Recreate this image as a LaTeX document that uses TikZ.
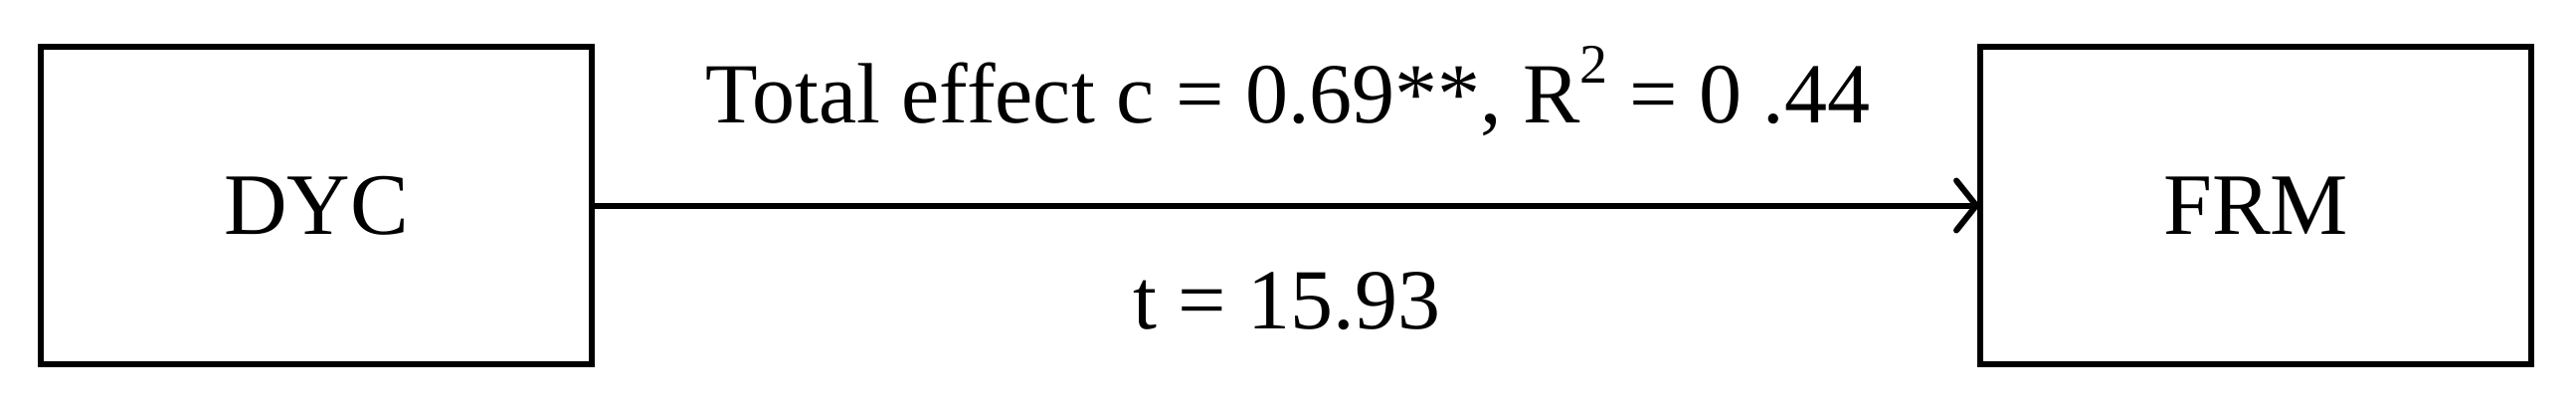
\documentclass[tikz,border=0pt]{standalone}
\usepackage{fontspec}
\setmainfont{Liberation Serif}
\usetikzlibrary{arrows.meta}
\newcommand{\supII}{\raisebox{0.46em}{\fontsize{28pt}{28pt}\selectfont 2}}
\begin{document}
\begin{tikzpicture}[x=0.5pt,y=-0.5pt,
  every node/.style={font=\fontsize{43pt}{50pt}\selectfont},
  varbox/.style={draw,line width=3pt,minimum width=277pt,minimum height=159.5pt,inner sep=0pt,line join=miter,font=\fontsize{44pt}{50pt}\selectfont},
  lbl/.style={anchor=base,inner sep=0pt},
  conn/.style={line width=3pt,shorten >=-1pt,-{Straight Barb[length=10pt,width=25pt,line cap=round,line join=round]}}]
\useasboundingbox (0,0) rectangle (2590,414);
\fill[white] (0,0) rectangle (2590,414);
\node[varbox] (dyc) at (318,206.5) {DYC};
\node[varbox] (frm) at (2268,206.5) {FRM};
\draw[conn] (dyc.east) -- (frm.west);
\node[lbl] (top) at (1295,123) {Total effect c = 0.69**, R\supII{} = 0 .44};
\node[lbl] (bot) at (1294,330) {t = 15.93};
\end{tikzpicture}
\end{document}
